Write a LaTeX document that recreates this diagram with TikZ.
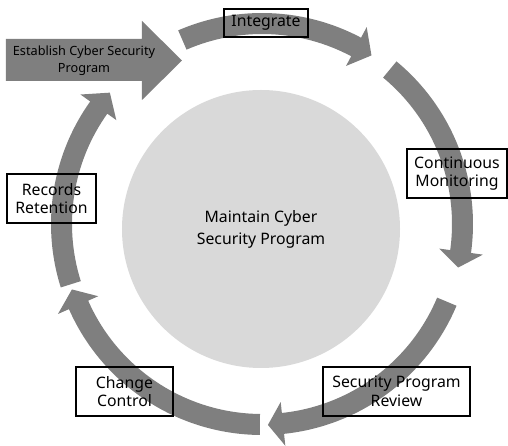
\documentclass[tikz,border=0pt]{standalone}
\usepackage{fontspec}
\setmainfont{Noto Sans}
\usepackage{xcolor}
\usepackage{tikz}
\definecolor{ringgray}{RGB}{127,127,127}
\definecolor{hubgray}{RGB}{217,217,217}
\tikzstyle{stagebox} = [rectangle, draw=black, line width=1.6pt, minimum height=49pt, inner sep=0pt, align=center, font=\fontsize{15.8}{18.5}\selectfont]
\tikzstyle{hub} = [circle, fill=hubgray, minimum size=278pt, inner sep=0pt, align=center, font=\fontsize{15.8}{22}\selectfont]
\tikzstyle{starttext} = [align=center, font=\fontsize{12.7}{17}\selectfont]

% one curved piece of the cycle: start angle, back of head, tip
\newcommand{\ringarrow}[3]{%
  \fill[ringgray] (#1:211) arc[start angle=#1, end angle=#2, radius=211]
    -- (#2:223) -- (#3:201) -- (#2:179) -- (#2:190)
    arc[start angle=#2, end angle=#1, radius=190] -- cycle;
}

\begin{document}
\begin{tikzpicture}[x=1pt, y=1pt]
\useasboundingbox (-262,-222) rectangle (246,224);

\node (hub) [hub] at (-1,-5) {Maintain Cyber\\Security Program};

% the five arrows round the ring
\ringarrow{113.4}{62}{57}
\ringarrow{50.4}{-7.9}{-12.5}
\ringarrow{-22.8}{-84}{-88.3}
\ringarrow{-90.6}{-156.2}{-161}
\ringarrow{-162.5}{-215.5}{-220.8}

% entry arrow
\fill[ringgray] (-256,143) -- (-120,143) -- (-120,124) -- (-80,163.5) -- (-120,203) -- (-120,185) -- (-256,185) -- cycle;
\node (establish) [starttext] at (-178,163) {Establish Cyber Security\\Program};

\node (integrate) [stagebox, minimum width=84pt, minimum height=28pt] at (4,201) {Integrate};
\node (monitor) [stagebox, minimum width=100pt] at (195,50.5) {Continuous\\Monitoring};
\node (review) [stagebox, minimum width=147pt] at (134.5,-167.5) {Security Program\\Review};
\node (change) [stagebox, minimum width=97pt] at (-137.5,-167.5) {Change\\Control};
\node (records) [stagebox, minimum width=89pt] at (-210.5,25.5) {Records\\Retention};

\end{tikzpicture}
\end{document}
